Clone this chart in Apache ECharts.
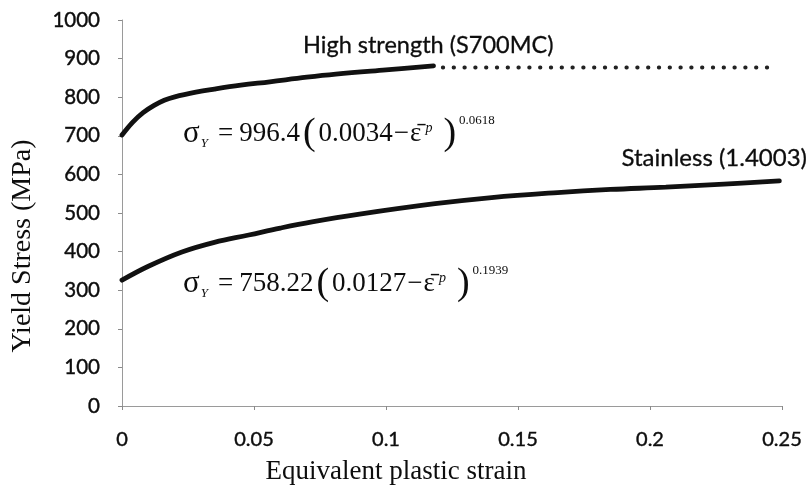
<!DOCTYPE html>
<html>
<head>
<meta charset="utf-8">
<script src="https://cdn.jsdelivr.net/npm/echarts@6/dist/echarts.min.js"></script>
<style>
  html, body { margin: 0; padding: 0; background: #fff; }
  #chart { width: 810px; height: 494px; }
</style>
</head>
<body>
<div id="chart"></div>
<script>
// Flow curves: yield stress (MPa) against equivalent plastic strain
const strainHighStrength = [0, 0.004, 0.008, 0.012, 0.016, 0.02, 0.028, 0.035, 0.045, 0.056, 0.07, 0.081, 0.1, 0.118];
const stressHighStrength = [702, 735, 760, 778, 792, 801, 813, 821, 831, 840, 852, 860, 871, 881];

// Extension of the high strength curve beyond the measured range
const strainHighStrengthExt = [0.1215, 0.246];
const stressHighStrengthExt = [877, 877];

const strainStainless = [0, 0.01, 0.0227, 0.035, 0.048, 0.06, 0.072, 0.09, 0.1186, 0.14, 0.165, 0.185, 0.206, 0.228, 0.249];
const stressStainless = [326, 362, 399, 424, 443, 461, 477, 497, 524, 540, 553, 561, 567, 575, 583];

const xTicks = ['0', '0.05', '0.1', '0.15', '0.2', '0.25'];
const yTicks = ['0', '100', '200', '300', '400', '500', '600', '700', '800', '900', '1000'];

const zip = (xs, ys) => xs.map((x, i) => [x, ys[i]]);

const serif = '"Liberation Serif", "Times New Roman", serif';
const sans = 'Lato, "Open Sans", sans-serif';
const ink = '#0d0d0d';

function formulaRich() {
  return {
    s: { fontFamily: serif, fontSize: 31, lineHeight: 40, verticalAlign: 'middle', fill: ink },
    sub: { fontFamily: serif, fontSize: 13, fontStyle: 'italic', lineHeight: 14, verticalAlign: 'middle', fill: ink, padding: [20, 0, 0, 1] },
    eq: { fontFamily: serif, fontSize: 27, lineHeight: 40, verticalAlign: 'middle', fill: ink, padding: [0, 6, 0, 10] },
    n: { fontFamily: serif, fontSize: 27, lineHeight: 40, verticalAlign: 'middle', fill: ink },
    mi: { fontFamily: serif, fontSize: 27, lineHeight: 40, verticalAlign: 'middle', fill: ink, padding: [0, 1, 0, 1] },
    par: { fontFamily: serif, fontSize: 38, lineHeight: 40, verticalAlign: 'middle', fill: ink, padding: [0, 3, 0, 3] },
    pe: { fontFamily: serif, fontSize: 14, fontStyle: 'italic', lineHeight: 14, verticalAlign: 'middle', padding: [0, 8, 12, 4], fill: ink },
    sup: { fontFamily: serif, fontSize: 13, lineHeight: 14, verticalAlign: 'top', fill: ink }
  };
}

function formulaText(coef, shift, expo) {
  return '{s|σ}{sub|Y}{eq|=}{n|' + coef + '}{par|(}{n|' + shift + '}{mi|−}{n|ε\u0304}{pe|p}{par|)}{sup|' + expo + '}';
}

const chart = echarts.init(document.getElementById('chart'), null, { renderer: 'canvas' });

chart.setOption({
  animation: false,
  backgroundColor: '#ffffff',
  grid: { left: 122, right: 28, top: 20, bottom: 88, containLabel: false },
  xAxis: {
    type: 'value',
    min: 0,
    max: 0.25,
    interval: 0.05,
    splitLine: { show: false },
    axisLine: { show: true, lineStyle: { color: '#9a9a9a', width: 1 } },
    axisTick: { show: true, length: 4, lineStyle: { color: '#8a8a8a' } },
    axisLabel: {
      margin: 24,
      color: ink,
      fontFamily: sans,
      fontSize: 20,
      textBorderColor: ink,
      textBorderWidth: 0.4,
      formatter: (v) => xTicks[Math.round(v / 0.05)]
    }
  },
  yAxis: {
    type: 'value',
    min: 0,
    max: 1000,
    interval: 100,
    splitLine: { show: false },
    axisLine: { show: true, lineStyle: { color: '#9a9a9a', width: 1 } },
    axisTick: { show: true, length: 4, lineStyle: { color: '#8a8a8a' } },
    axisLabel: {
      margin: 22,
      color: ink,
      fontFamily: sans,
      fontSize: 20.5,
      textBorderColor: ink,
      textBorderWidth: 0.4,
      formatter: (v) => yTicks[Math.round(v / 100)]
    }
  },
  series: [
    {
      name: 'High strength (S700MC)',
      type: 'line',
      data: zip(strainHighStrength, stressHighStrength),
      smooth: 0.4,
      showSymbol: false,
      lineStyle: { color: '#111', width: 4.8, cap: 'round' }
    },
    {
      name: 'High strength (S700MC) extension',
      type: 'line',
      data: zip(strainHighStrengthExt, stressHighStrengthExt),
      showSymbol: false,
      lineStyle: { color: '#222', width: 3.8, type: [0.5, 10.3], cap: 'round' }
    },
    {
      name: 'Stainless (1.4003)',
      type: 'line',
      data: zip(strainStainless, stressStainless),
      smooth: 0.4,
      showSymbol: false,
      lineStyle: { color: '#111', width: 4.8, cap: 'round' }
    }
  ],
  graphic: [
    {
      type: 'text', x: 303, y: 45,
      style: { text: 'High strength (S700MC)', font: '23.5px ' + sans, fill: ink, stroke: ink, lineWidth: 0.3, align: 'left', verticalAlign: 'middle' }
    },
    {
      type: 'text', x: 807, y: 158,
      style: { text: 'Stainless (1.4003)', font: '24px ' + sans, fill: ink, stroke: ink, lineWidth: 0.3, align: 'right', verticalAlign: 'middle' }
    },
    {
      type: 'text', x: 183, y: 134,
      style: { text: formulaText('996.4', '0.0034', '0.0618'), rich: formulaRich(), align: 'left', verticalAlign: 'middle' }
    },
    {
      type: 'text', x: 183, y: 284,
      style: { text: formulaText('758.22', '0.0127', '0.1939'), rich: formulaRich(), align: 'left', verticalAlign: 'middle' }
    },
    {
      type: 'text', x: 396, y: 472,
      style: { text: 'Equivalent plastic strain', font: '27px ' + serif, fill: ink, align: 'center', verticalAlign: 'middle' }
    },
    {
      type: 'text', x: 23, y: 246, rotation: Math.PI / 2,
      style: { text: 'Yield Stress (MPa)', font: '28px ' + serif, fill: ink, align: 'center', verticalAlign: 'middle' }
    }
  ]
});
</script>
</body>
</html>
